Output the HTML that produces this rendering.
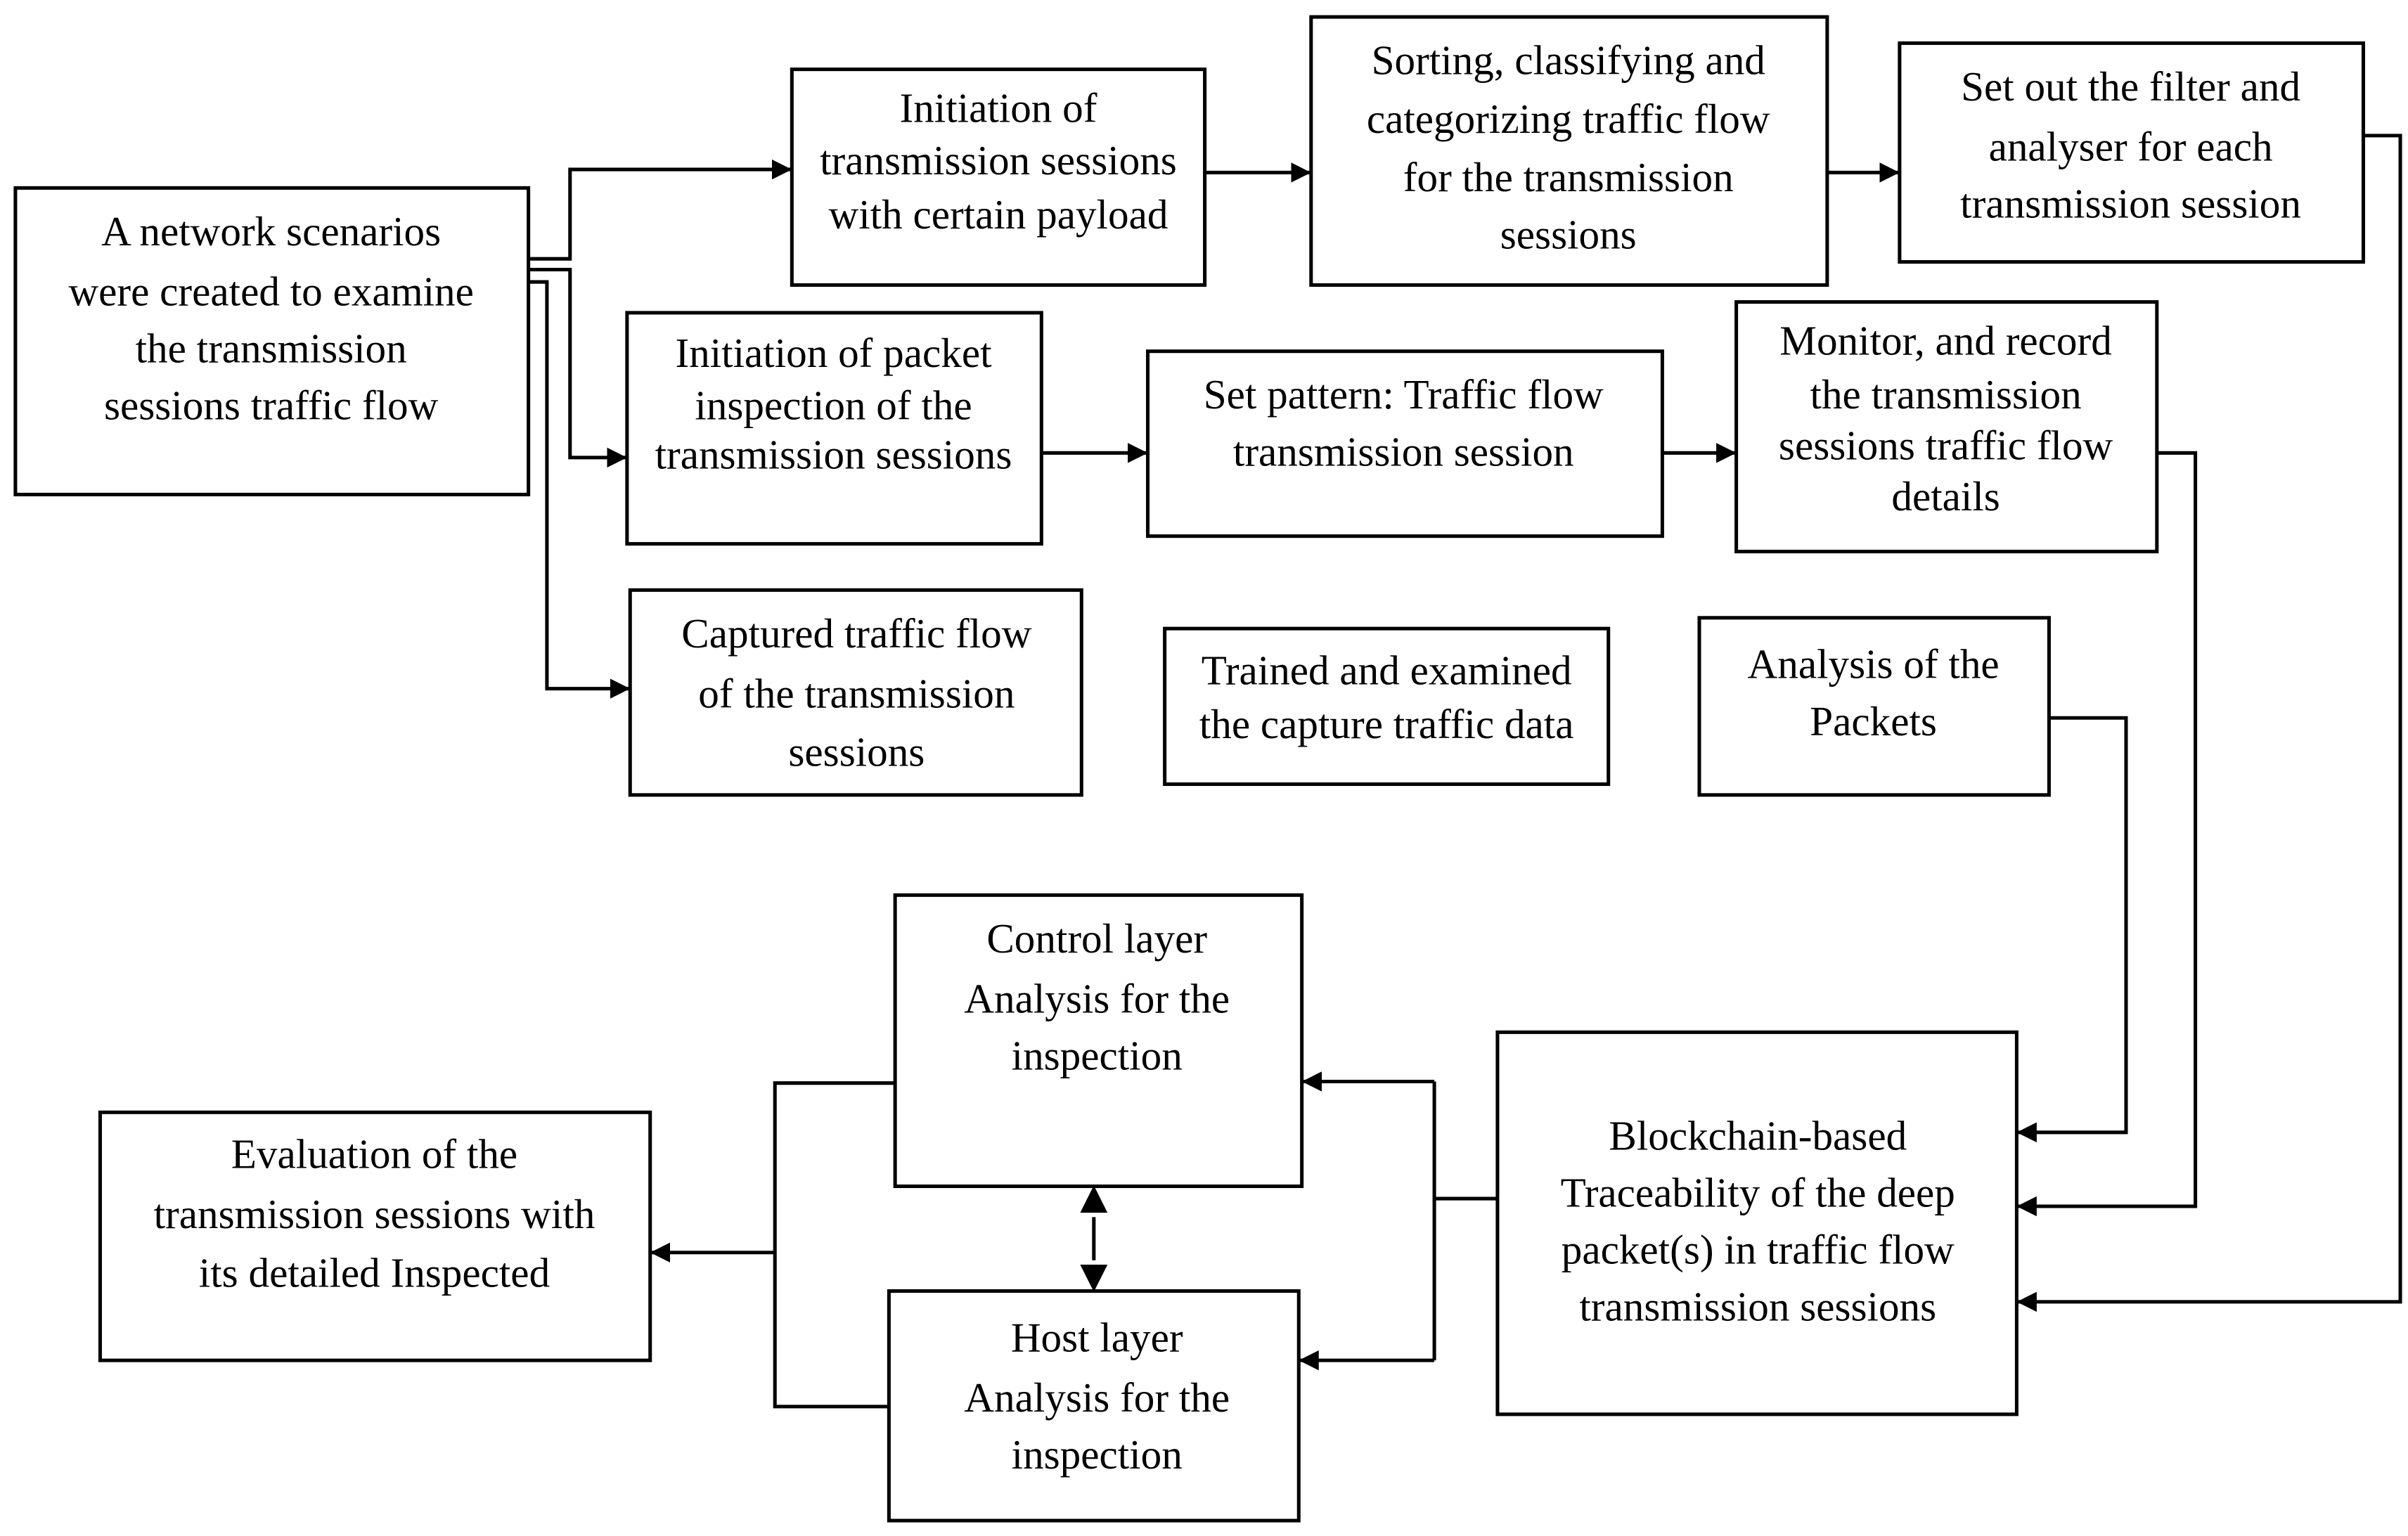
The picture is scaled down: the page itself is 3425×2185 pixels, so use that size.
<!DOCTYPE html>
<html><head><meta charset="utf-8"><style>html,body{margin:0;padding:0;background:#fff}svg{display:block}</style></head>
<body>
<svg width="3425" height="2185" viewBox="0 0 1563 997" preserveAspectRatio="none" xmlns="http://www.w3.org/2000/svg">
<defs><marker id="a" markerWidth="13" markerHeight="13" refX="12" refY="6.5" orient="auto" markerUnits="userSpaceOnUse"><path d="M0,0 L13,6.5 L0,13 z" fill="#000"/></marker></defs>
<g fill="none" stroke="#000" stroke-width="2.3">
<rect x="10" y="122" width="333" height="199"/>
<rect x="514" y="45" width="268" height="140"/>
<rect x="851" y="11" width="335" height="174"/>
<rect x="1233" y="28" width="301" height="142"/>
<rect x="407" y="203" width="269" height="150"/>
<rect x="745" y="228" width="334" height="120"/>
<rect x="1127" y="196" width="273" height="162"/>
<rect x="409" y="383" width="293" height="133"/>
<rect x="756" y="408" width="288" height="101"/>
<rect x="1103" y="401" width="227" height="115"/>
<rect x="581" y="581" width="264" height="189"/>
<rect x="577" y="838" width="266" height="149"/>
<rect x="972" y="670" width="337" height="248"/>
<rect x="65" y="722" width="357" height="161"/>
<path d="M343,168 H370 V110 H513" marker-end="url(#a)"/>
<path d="M343,175 H370 V297 H406" marker-end="url(#a)"/>
<path d="M343,183 H355 V447 H408" marker-end="url(#a)"/>
<path d="M782,112 H850" marker-end="url(#a)"/>
<path d="M1186,112 H1232" marker-end="url(#a)"/>
<path d="M676,294 H744" marker-end="url(#a)"/>
<path d="M1079,294 H1126" marker-end="url(#a)"/>
<path d="M1534,88 H1558 V845 H1310" marker-end="url(#a)"/>
<path d="M1400,294 H1425 V783 H1310" marker-end="url(#a)"/>
<path d="M1330,466 H1380 V735 H1310" marker-end="url(#a)"/>
<path d="M972,778 H931"/>
<path d="M931,702 V883"/>
<path d="M931,702 H846" marker-end="url(#a)"/>
<path d="M931,883 H844" marker-end="url(#a)"/>
<path d="M710,790 V818"/>
<path d="M710,772 l-7,14 h14 z M710,836 l-7,-14 h14 z" fill="#000"/>
<path d="M581,703 H503 V913 H577"/>
<path d="M503,813 H423" marker-end="url(#a)"/>
</g>
<g font-family="Liberation Serif, serif" font-size="27" text-anchor="middle" fill="#000" dominant-baseline="middle">
<text x="176" y="153">A network scenarios</text>
<text x="176" y="192">were created to examine</text>
<text x="176" y="229">the transmission</text>
<text x="176" y="266">sessions traffic flow</text>
<text x="648" y="73">Initiation of</text>
<text x="648" y="107">transmission sessions</text>
<text x="648" y="142">with certain payload</text>
<text x="1018" y="42">Sorting, classifying and</text>
<text x="1018" y="80">categorizing traffic flow</text>
<text x="1018" y="118">for the transmission</text>
<text x="1018" y="155">sessions</text>
<text x="1383" y="59">Set out the filter and</text>
<text x="1383" y="98">analyser for each</text>
<text x="1383" y="135">transmission session</text>
<text x="541" y="232">Initiation of packet</text>
<text x="541" y="266">inspection of the</text>
<text x="541" y="298">transmission sessions</text>
<text x="911" y="259">Set pattern: Traffic flow</text>
<text x="911" y="296">transmission session</text>
<text x="1263" y="224">Monitor, and record</text>
<text x="1263" y="259">the transmission</text>
<text x="1263" y="292">sessions traffic flow</text>
<text x="1263" y="325">details</text>
<text x="556" y="414">Captured traffic flow</text>
<text x="556" y="453">of the transmission</text>
<text x="556" y="491">sessions</text>
<text x="900" y="438">Trained and examined</text>
<text x="900" y="473">the capture traffic data</text>
<text x="1216" y="434">Analysis of the</text>
<text x="1216" y="471">Packets</text>
<text x="712" y="612">Control layer</text>
<text x="712" y="651">Analysis for the</text>
<text x="712" y="688">inspection</text>
<text x="712" y="871">Host layer</text>
<text x="712" y="910">Analysis for the</text>
<text x="712" y="947">inspection</text>
<text x="1141" y="740">Blockchain-based</text>
<text x="1141" y="777">Traceability of the deep</text>
<text x="1141" y="814">packet(s) in traffic flow</text>
<text x="1141" y="851">transmission sessions</text>
<text x="243" y="752">Evaluation of the</text>
<text x="243" y="791">transmission sessions with</text>
<text x="243" y="829">its detailed Inspected</text>
</g>
</svg>
</body></html>
